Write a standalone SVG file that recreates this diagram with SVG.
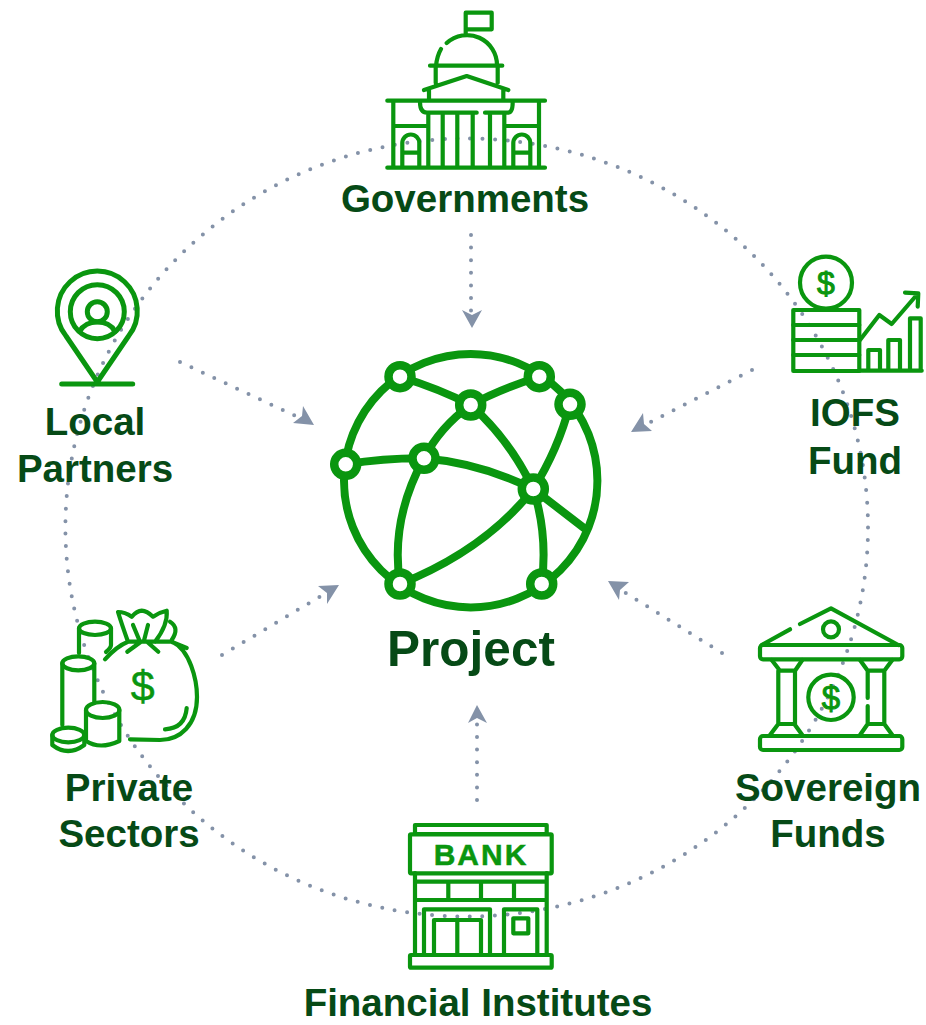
<svg xmlns="http://www.w3.org/2000/svg" width="926" height="1025" viewBox="0 0 926 1025">
<style>
.l{font-family:"Liberation Sans",Arial,sans-serif;font-weight:700;font-size:38.500px;fill:#064a16;text-anchor:middle}
.i{fill:none;stroke:#0a960f;stroke-width:4.200;stroke-linecap:round;stroke-linejoin:round}
.g{fill:none;stroke:#0a960f;stroke-width:8;stroke-linecap:round}
.n{fill:#fff;stroke:#0a960f;stroke-width:8.500}
.d{fill:none;stroke:#8492a8;stroke-width:4;stroke-linecap:round;stroke-dasharray:0 12.600}
.h{fill:#8492a8}
.s{font-family:"Liberation Sans",sans-serif;fill:#0a960f;text-anchor:middle;stroke:#0a960f}
</style>
<rect width="926" height="1025" fill="#fff"/>
<g id="connectors">
<ellipse class="d" cx="466.700" cy="527.500" rx="401.300" ry="389"/>
<path class="d" d="M471 235V312"/>
<path class="d" d="M180 362L300 418"/>
<path class="d" d="M752 370L645 425"/>
<path class="d" d="M222 655L326 593"/>
<path class="d" d="M722 653L621 590"/>
<path class="d" d="M477 800V720"/>
<path class="h" d="M472 328L462 310L472 315L482 310Z"/>
<path class="h" d="M314 425L293 423L302 416L303 406Z"/>
<path class="h" d="M631 432L652 431L644 424L643 413Z"/>
<path class="h" d="M339 585L318 586L327 593L327 604Z"/>
<path class="h" d="M608 581L629 582L620 590L619 600Z"/>
<path class="h" d="M477 705L468 723L477 718L487 723Z"/>
</g>
<g id="project">
<circle class="g" cx="470.700" cy="480.700" r="126.700"/>
<path class="g" d="M400 376.700Q440 389 470.700 405M539.300 376.700Q500 389 470.700 405M470.700 405Q440 427 424 458.300M470.700 405Q510 440 533.300 489M345.700 464.300Q385 458 424 458.300Q480 463 533.300 489M424 458.300Q390 520 400 584M570 404.300Q558 450 533.300 489M533.300 489Q485 550 400 584M533.300 489Q548 535 541.700 584M533.300 489L584 528"/>
<circle class="n" cx="400" cy="376.700" r="11.500"/><circle class="n" cx="539.300" cy="376.700" r="11.500"/><circle class="n" cx="470.700" cy="405" r="11.500"/><circle class="n" cx="570" cy="404.300" r="11.500"/><circle class="n" cx="345.700" cy="464.300" r="11.500"/><circle class="n" cx="424" cy="458.300" r="11.500"/><circle class="n" cx="533.300" cy="489" r="11.500"/><circle class="n" cx="400" cy="584" r="11.500"/><circle class="n" cx="541.700" cy="584" r="11.500"/>
<text x="471" y="666" style="font-family:'Liberation Sans',Arial,sans-serif;font-weight:700;font-size:49.500px;fill:#064a16;text-anchor:middle">Project</text>
</g>
<g id="governments">
<path class="i" d="M465.700 34V12.700H491.700V29.300H465.700M446.700 43A30 30 0 0 1 497 65.700M441 49Q437 56 436 65.700M430 65.700H502.300M435.700 65.700V83M497.700 65.700V83M424 90L466.700 76L508.300 90M429 90V100M503.300 90V100M387.300 100.700H545M387.300 167.700H545M393.300 100.700V167.700M539 100.700V167.700M420 102Q420 112.700 427 112.700H476.700M485 112.700H508Q512.700 112.700 512.700 102M428.300 112.700V167.700M442.700 112.700V167.700M457.300 112.700V167.700M472.700 112.700V167.700M490 112.700V167.700M504.300 112.700V167.700M393.300 126H428.300M504.300 126H539M402.300 167.700V143A8.500 8.500 0 0 1 419.300 143V167.700M402.300 152.700H419.300M513.300 167.700V143A8.500 8.500 0 0 1 530.300 143V167.700M513.300 152.700H530.300"/>
<text class="l" x="465" y="212">Governments</text>
</g>
<g id="local-partners">
<path class="i" style="stroke-width:5" d="M97.300 382L66 336A40 40 0 1 1 128.600 336ZM61.700 384H132.700"/>
<circle class="i" style="stroke-width:5" cx="97.300" cy="311.700" r="27"/>
<circle class="i" style="stroke-width:5" cx="97.300" cy="311.700" r="10"/>
<path class="i" style="stroke-width:5" d="M79.500 331.500Q85 322 97.300 322Q110 322 115 331.500"/>
<text class="l" x="95" y="435">Local</text><text class="l" x="95" y="482">Partners</text>
</g>
<g id="iofs-fund">
<circle class="i" cx="826" cy="282.700" r="26"/>
<text class="s" x="826" y="294" font-size="32" stroke-width="1">$</text>
<rect class="i" x="793.300" y="310" width="66" height="61"/>
<path class="i" d="M793.300 325H859.300M793.300 340H859.300M793.300 355H859.300M859.300 370.700H921.700M868.300 370.700V350H880V370.700M888.300 370.700V340H900V370.700M910 370.700V318.300H920.700V370.700M860 340L879.300 315L891.700 324L916.700 295M905 292.700L918.300 293.300L917.700 306.700"/>
<text class="l" x="855" y="426">IOFS</text><text class="l" x="855" y="474">Fund</text>
</g>
<g id="sovereign-funds">
<path class="i" d="M800 624L831 608.300L898.300 645M790 629.300L761.700 645M771.700 660L780 670.700H795L802.300 660M860 660L867.700 670.700H884.300L892.300 660M778.300 670.700V724M795 670.700V724M867.700 670.700V698M867.700 706V724M884.300 670.700V724M770 735L778.300 724H794.300L802.300 735M860 735L867.700 724H884.300L892.300 735"/>
<circle class="i" cx="831" cy="629.300" r="8"/>
<rect class="i" x="760" y="645" width="142.300" height="14.300" rx="3"/>
<rect class="i" x="760" y="736" width="142.300" height="14" rx="3"/>
<circle class="i" cx="831" cy="697.300" r="22.700"/>
<text class="s" x="831" y="709" font-size="33" stroke-width="1">$</text>
<text class="l" x="828" y="801">Sovereign</text><text class="l" x="828" y="847">Funds</text>
</g>
<g id="financial-institutes">
<rect class="i" x="415" y="825" width="131.700" height="9"/>
<rect class="i" x="410" y="834.300" width="141.700" height="39" rx="1"/>
<text class="s" x="481" y="865" font-size="30" font-weight="700" stroke-width="0.500" letter-spacing="2">BANK</text>
<path class="i" d="M415 873V955M546.700 873V955M415 881.700H546.700M415 900H546.700M448.300 881.700V900M481 881.700V900M514 881.700V900M424 955V909.300H490V955M434 955V920H481V955M457.300 920V955M504 955V909.300H537.300V955"/>
<rect class="i" x="513.300" y="918.300" width="15" height="15"/>
<rect class="i" x="410" y="955" width="141.700" height="12.700" rx="1"/>
<text class="l" x="478" y="1016">Financial Institutes</text>
</g>
<g id="private-sectors">
<path class="i" d="M105 659.300Q117 646 128 641.700M172 641.700C190 650 197 680 197 697C197 725 180 740 160 740L130 739.300M186.700 708Q185 728.300 165 729.300M128 641.700Q122 625 118 612Q125 612 131.700 616.700Q137 611 141.700 610.700Q147 611 153 616.700Q160 612 166.700 610.700Q168 625 155 641.700M170 621.700Q180 628 171.700 640M133 625L140 641.700M148 625L143.700 641.700M141 641.700L127.300 651.700M147 641.700L158.300 651.700M128 641.700H172M172 642L186.700 648"/>
<text class="s" x="142.700" y="701" font-size="43" stroke-width="0.500">$</text>
<ellipse class="i" cx="95" cy="628.300" rx="16" ry="6.700"/>
<path class="i" d="M79 628.300V653M111 628.300V645Q111 648 106 652"/>
<ellipse class="i" cx="78.300" cy="663.300" rx="16" ry="7"/>
<path class="i" d="M62.300 663.300V725M94.300 663.300V701.700"/>
<ellipse class="i" cx="102.700" cy="710" rx="16.700" ry="8"/>
<path class="i" d="M86 710V741Q100 750 119.300 741V710"/>
<ellipse class="i" cx="68.300" cy="735" rx="16" ry="7.300"/>
<path class="i" d="M52.300 735V745Q68 757 84.300 745V735"/>
<text class="l" x="129" y="801">Private</text><text class="l" x="129" y="847">Sectors</text>
</g>
</svg>
